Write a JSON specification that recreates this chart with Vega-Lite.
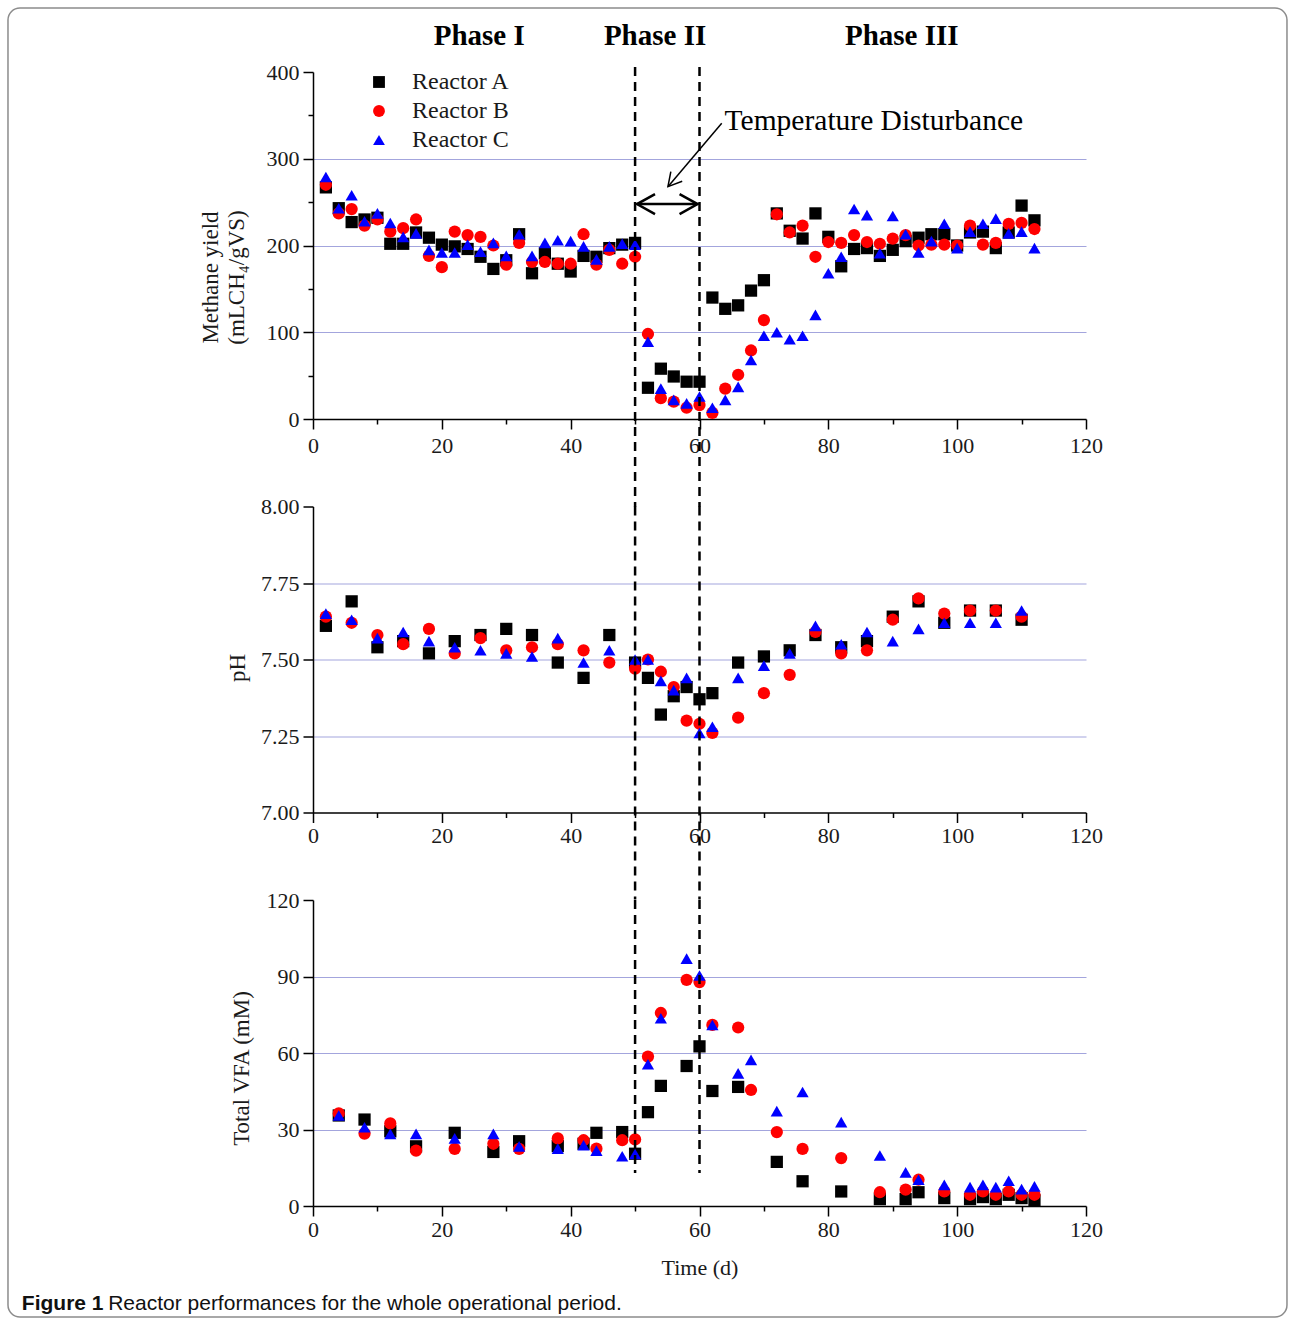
{
  "$schema": "https://vega.github.io/schema/vega-lite/v6.json",
  "padding": {"left": 7, "top": 7, "right": 0, "bottom": 0},
  "background": "white",
  "bounds": "flush",
  "spacing": 87.5,
  "config": {
    "view": {"stroke": null},
    "axis": {"labelFont": "Liberation Serif", "labelFontSize": 22, "labelColor": "#1a1a1a", "labelFlush": false, "labelOverlap": false, "domainColor": "#000000", "domainWidth": 1.5, "tickColor": "#000000", "tickWidth": 1.5, "titleFont": "Liberation Serif", "titleFontSize": 23, "titleFontWeight": "normal", "titleColor": "#1a1a1a", "gridColor": "#a3a5dd", "gridWidth": 1.2},
    "text": {"font": "Liberation Serif", "color": "#000000"}
  },
  "resolve": {"legend": {"color": "independent", "shape": "independent"}},
  "datasets": {
    "methane": [
      {"reactor":"Reactor A","day":2,"value":267},{"reactor":"Reactor A","day":4,"value":243},{"reactor":"Reactor A","day":6,"value":227},{"reactor":"Reactor A","day":8,"value":230},{"reactor":"Reactor A","day":10,"value":232},{"reactor":"Reactor A","day":12,"value":202},{"reactor":"Reactor A","day":14,"value":202},{"reactor":"Reactor A","day":16,"value":215},{"reactor":"Reactor A","day":18,"value":209},{"reactor":"Reactor A","day":20,"value":201},{"reactor":"Reactor A","day":22,"value":199},{"reactor":"Reactor A","day":24,"value":196},{"reactor":"Reactor A","day":26,"value":187},{"reactor":"Reactor A","day":28,"value":173},{"reactor":"Reactor A","day":30,"value":183},{"reactor":"Reactor A","day":32,"value":213},{"reactor":"Reactor A","day":34,"value":168},{"reactor":"Reactor A","day":36,"value":191},{"reactor":"Reactor A","day":38,"value":179},{"reactor":"Reactor A","day":40,"value":170},{"reactor":"Reactor A","day":42,"value":188},{"reactor":"Reactor A","day":44,"value":187},{"reactor":"Reactor A","day":46,"value":197},{"reactor":"Reactor A","day":48,"value":201},{"reactor":"Reactor A","day":50,"value":203},{"reactor":"Reactor A","day":52,"value":36},{"reactor":"Reactor A","day":54,"value":58},{"reactor":"Reactor A","day":56,"value":49},{"reactor":"Reactor A","day":58,"value":43},{"reactor":"Reactor A","day":60,"value":43},{"reactor":"Reactor A","day":62,"value":140},{"reactor":"Reactor A","day":64,"value":127},{"reactor":"Reactor A","day":66,"value":131},{"reactor":"Reactor A","day":68,"value":148},{"reactor":"Reactor A","day":70,"value":160},{"reactor":"Reactor A","day":72,"value":237},{"reactor":"Reactor A","day":74,"value":217},{"reactor":"Reactor A","day":76,"value":208},{"reactor":"Reactor A","day":78,"value":237},{"reactor":"Reactor A","day":80,"value":210},{"reactor":"Reactor A","day":82,"value":176},{"reactor":"Reactor A","day":84,"value":196},{"reactor":"Reactor A","day":86,"value":197},{"reactor":"Reactor A","day":88,"value":188},{"reactor":"Reactor A","day":90,"value":195},{"reactor":"Reactor A","day":92,"value":205},{"reactor":"Reactor A","day":94,"value":209},{"reactor":"Reactor A","day":96,"value":213},{"reactor":"Reactor A","day":98,"value":213},{"reactor":"Reactor A","day":100,"value":200},{"reactor":"Reactor A","day":102,"value":215},{"reactor":"Reactor A","day":104,"value":216},{"reactor":"Reactor A","day":106,"value":197},{"reactor":"Reactor A","day":108,"value":215},{"reactor":"Reactor A","day":110,"value":246},{"reactor":"Reactor A","day":112,"value":229},
      {"reactor":"Reactor B","day":2,"value":270},{"reactor":"Reactor B","day":4,"value":237},{"reactor":"Reactor B","day":6,"value":242},{"reactor":"Reactor B","day":8,"value":223},{"reactor":"Reactor B","day":10,"value":230},{"reactor":"Reactor B","day":12,"value":216},{"reactor":"Reactor B","day":14,"value":220},{"reactor":"Reactor B","day":16,"value":230},{"reactor":"Reactor B","day":18,"value":188},{"reactor":"Reactor B","day":20,"value":175},{"reactor":"Reactor B","day":22,"value":216},{"reactor":"Reactor B","day":24,"value":212},{"reactor":"Reactor B","day":26,"value":210},{"reactor":"Reactor B","day":28,"value":200},{"reactor":"Reactor B","day":30,"value":178},{"reactor":"Reactor B","day":32,"value":203},{"reactor":"Reactor B","day":34,"value":181},{"reactor":"Reactor B","day":36,"value":181},{"reactor":"Reactor B","day":38,"value":179},{"reactor":"Reactor B","day":40,"value":179},{"reactor":"Reactor B","day":42,"value":213},{"reactor":"Reactor B","day":44,"value":178},{"reactor":"Reactor B","day":46,"value":195},{"reactor":"Reactor B","day":48,"value":179},{"reactor":"Reactor B","day":50,"value":187},{"reactor":"Reactor B","day":52,"value":98},{"reactor":"Reactor B","day":54,"value":24},{"reactor":"Reactor B","day":56,"value":20},{"reactor":"Reactor B","day":58,"value":13},{"reactor":"Reactor B","day":60,"value":16},{"reactor":"Reactor B","day":62,"value":7},{"reactor":"Reactor B","day":64,"value":35},{"reactor":"Reactor B","day":66,"value":51},{"reactor":"Reactor B","day":68,"value":79},{"reactor":"Reactor B","day":70,"value":114},{"reactor":"Reactor B","day":72,"value":236},{"reactor":"Reactor B","day":74,"value":215},{"reactor":"Reactor B","day":76,"value":223},{"reactor":"Reactor B","day":78,"value":187},{"reactor":"Reactor B","day":80,"value":204},{"reactor":"Reactor B","day":82,"value":203},{"reactor":"Reactor B","day":84,"value":212},{"reactor":"Reactor B","day":86,"value":204},{"reactor":"Reactor B","day":88,"value":202},{"reactor":"Reactor B","day":90,"value":208},{"reactor":"Reactor B","day":92,"value":212},{"reactor":"Reactor B","day":94,"value":200},{"reactor":"Reactor B","day":96,"value":201},{"reactor":"Reactor B","day":98,"value":201},{"reactor":"Reactor B","day":100,"value":200},{"reactor":"Reactor B","day":102,"value":223},{"reactor":"Reactor B","day":104,"value":201},{"reactor":"Reactor B","day":106,"value":203},{"reactor":"Reactor B","day":108,"value":225},{"reactor":"Reactor B","day":110,"value":226},{"reactor":"Reactor B","day":112,"value":219},
      {"reactor":"Reactor C","day":2,"value":279},{"reactor":"Reactor C","day":4,"value":243},{"reactor":"Reactor C","day":6,"value":258},{"reactor":"Reactor C","day":8,"value":228},{"reactor":"Reactor C","day":10,"value":237},{"reactor":"Reactor C","day":12,"value":226},{"reactor":"Reactor C","day":14,"value":210},{"reactor":"Reactor C","day":16,"value":214},{"reactor":"Reactor C","day":18,"value":195},{"reactor":"Reactor C","day":20,"value":192},{"reactor":"Reactor C","day":22,"value":192},{"reactor":"Reactor C","day":24,"value":201},{"reactor":"Reactor C","day":26,"value":193},{"reactor":"Reactor C","day":28,"value":203},{"reactor":"Reactor C","day":30,"value":188},{"reactor":"Reactor C","day":32,"value":213},{"reactor":"Reactor C","day":34,"value":188},{"reactor":"Reactor C","day":36,"value":203},{"reactor":"Reactor C","day":38,"value":206},{"reactor":"Reactor C","day":40,"value":205},{"reactor":"Reactor C","day":42,"value":199},{"reactor":"Reactor C","day":44,"value":184},{"reactor":"Reactor C","day":46,"value":199},{"reactor":"Reactor C","day":48,"value":202},{"reactor":"Reactor C","day":50,"value":201},{"reactor":"Reactor C","day":52,"value":89},{"reactor":"Reactor C","day":54,"value":35},{"reactor":"Reactor C","day":56,"value":22},{"reactor":"Reactor C","day":58,"value":18},{"reactor":"Reactor C","day":60,"value":26},{"reactor":"Reactor C","day":62,"value":13},{"reactor":"Reactor C","day":64,"value":22},{"reactor":"Reactor C","day":66,"value":37},{"reactor":"Reactor C","day":68,"value":68},{"reactor":"Reactor C","day":70,"value":96},{"reactor":"Reactor C","day":72,"value":100},{"reactor":"Reactor C","day":74,"value":92},{"reactor":"Reactor C","day":76,"value":96},{"reactor":"Reactor C","day":78,"value":120},{"reactor":"Reactor C","day":80,"value":168},{"reactor":"Reactor C","day":82,"value":187},{"reactor":"Reactor C","day":84,"value":242},{"reactor":"Reactor C","day":86,"value":235},{"reactor":"Reactor C","day":88,"value":191},{"reactor":"Reactor C","day":90,"value":234},{"reactor":"Reactor C","day":92,"value":213},{"reactor":"Reactor C","day":94,"value":192},{"reactor":"Reactor C","day":96,"value":205},{"reactor":"Reactor C","day":98,"value":225},{"reactor":"Reactor C","day":100,"value":197},{"reactor":"Reactor C","day":102,"value":216},{"reactor":"Reactor C","day":104,"value":225},{"reactor":"Reactor C","day":106,"value":231},{"reactor":"Reactor C","day":108,"value":214},{"reactor":"Reactor C","day":110,"value":216},{"reactor":"Reactor C","day":112,"value":197}
    ],
    "ph": [
      {"reactor":"Reactor A","day":2,"value":7.61},{"reactor":"Reactor A","day":6,"value":7.69},{"reactor":"Reactor A","day":10,"value":7.54},{"reactor":"Reactor A","day":14,"value":7.56},{"reactor":"Reactor A","day":18,"value":7.52},{"reactor":"Reactor A","day":22,"value":7.56},{"reactor":"Reactor A","day":26,"value":7.58},{"reactor":"Reactor A","day":30,"value":7.60},{"reactor":"Reactor A","day":34,"value":7.58},{"reactor":"Reactor A","day":38,"value":7.49},{"reactor":"Reactor A","day":42,"value":7.44},{"reactor":"Reactor A","day":46,"value":7.58},{"reactor":"Reactor A","day":50,"value":7.49},{"reactor":"Reactor A","day":52,"value":7.44},{"reactor":"Reactor A","day":54,"value":7.32},{"reactor":"Reactor A","day":56,"value":7.38},{"reactor":"Reactor A","day":58,"value":7.41},{"reactor":"Reactor A","day":60,"value":7.37},{"reactor":"Reactor A","day":62,"value":7.39},{"reactor":"Reactor A","day":66,"value":7.49},{"reactor":"Reactor A","day":70,"value":7.51},{"reactor":"Reactor A","day":74,"value":7.53},{"reactor":"Reactor A","day":78,"value":7.58},{"reactor":"Reactor A","day":82,"value":7.54},{"reactor":"Reactor A","day":86,"value":7.56},{"reactor":"Reactor A","day":90,"value":7.64},{"reactor":"Reactor A","day":94,"value":7.69},{"reactor":"Reactor A","day":98,"value":7.62},{"reactor":"Reactor A","day":102,"value":7.66},{"reactor":"Reactor A","day":106,"value":7.66},{"reactor":"Reactor A","day":110,"value":7.63},
      {"reactor":"Reactor B","day":2,"value":7.64},{"reactor":"Reactor B","day":6,"value":7.62},{"reactor":"Reactor B","day":10,"value":7.58},{"reactor":"Reactor B","day":14,"value":7.55},{"reactor":"Reactor B","day":18,"value":7.60},{"reactor":"Reactor B","day":22,"value":7.52},{"reactor":"Reactor B","day":26,"value":7.57},{"reactor":"Reactor B","day":30,"value":7.53},{"reactor":"Reactor B","day":34,"value":7.54},{"reactor":"Reactor B","day":38,"value":7.55},{"reactor":"Reactor B","day":42,"value":7.53},{"reactor":"Reactor B","day":46,"value":7.49},{"reactor":"Reactor B","day":50,"value":7.47},{"reactor":"Reactor B","day":52,"value":7.50},{"reactor":"Reactor B","day":54,"value":7.46},{"reactor":"Reactor B","day":56,"value":7.41},{"reactor":"Reactor B","day":58,"value":7.30},{"reactor":"Reactor B","day":60,"value":7.29},{"reactor":"Reactor B","day":62,"value":7.26},{"reactor":"Reactor B","day":66,"value":7.31},{"reactor":"Reactor B","day":70,"value":7.39},{"reactor":"Reactor B","day":74,"value":7.45},{"reactor":"Reactor B","day":78,"value":7.59},{"reactor":"Reactor B","day":82,"value":7.52},{"reactor":"Reactor B","day":86,"value":7.53},{"reactor":"Reactor B","day":90,"value":7.63},{"reactor":"Reactor B","day":94,"value":7.70},{"reactor":"Reactor B","day":98,"value":7.65},{"reactor":"Reactor B","day":102,"value":7.66},{"reactor":"Reactor B","day":106,"value":7.66},{"reactor":"Reactor B","day":110,"value":7.64},
      {"reactor":"Reactor C","day":2,"value":7.65},{"reactor":"Reactor C","day":6,"value":7.63},{"reactor":"Reactor C","day":10,"value":7.57},{"reactor":"Reactor C","day":14,"value":7.59},{"reactor":"Reactor C","day":18,"value":7.56},{"reactor":"Reactor C","day":22,"value":7.54},{"reactor":"Reactor C","day":26,"value":7.53},{"reactor":"Reactor C","day":30,"value":7.52},{"reactor":"Reactor C","day":34,"value":7.51},{"reactor":"Reactor C","day":38,"value":7.57},{"reactor":"Reactor C","day":42,"value":7.49},{"reactor":"Reactor C","day":46,"value":7.53},{"reactor":"Reactor C","day":50,"value":7.50},{"reactor":"Reactor C","day":52,"value":7.50},{"reactor":"Reactor C","day":54,"value":7.43},{"reactor":"Reactor C","day":56,"value":7.40},{"reactor":"Reactor C","day":58,"value":7.44},{"reactor":"Reactor C","day":60,"value":7.26},{"reactor":"Reactor C","day":62,"value":7.28},{"reactor":"Reactor C","day":66,"value":7.44},{"reactor":"Reactor C","day":70,"value":7.48},{"reactor":"Reactor C","day":74,"value":7.52},{"reactor":"Reactor C","day":78,"value":7.61},{"reactor":"Reactor C","day":82,"value":7.55},{"reactor":"Reactor C","day":86,"value":7.59},{"reactor":"Reactor C","day":90,"value":7.56},{"reactor":"Reactor C","day":94,"value":7.60},{"reactor":"Reactor C","day":98,"value":7.62},{"reactor":"Reactor C","day":102,"value":7.62},{"reactor":"Reactor C","day":106,"value":7.62},{"reactor":"Reactor C","day":110,"value":7.66}
    ],
    "vfa": [
      {"reactor":"Reactor A","day":4,"value":35.5},{"reactor":"Reactor A","day":8,"value":33.9},{"reactor":"Reactor A","day":12,"value":29.3},{"reactor":"Reactor A","day":16,"value":23.4},{"reactor":"Reactor A","day":22,"value":28.7},{"reactor":"Reactor A","day":28,"value":21.2},{"reactor":"Reactor A","day":32,"value":25.4},{"reactor":"Reactor A","day":38,"value":23.5},{"reactor":"Reactor A","day":42,"value":24.4},{"reactor":"Reactor A","day":44,"value":28.7},{"reactor":"Reactor A","day":48,"value":29},{"reactor":"Reactor A","day":50,"value":20.5},{"reactor":"Reactor A","day":52,"value":36.8},{"reactor":"Reactor A","day":54,"value":47.1},{"reactor":"Reactor A","day":58,"value":54.9},{"reactor":"Reactor A","day":60,"value":62.6},{"reactor":"Reactor A","day":62,"value":45.1},{"reactor":"Reactor A","day":66,"value":46.7},{"reactor":"Reactor A","day":72,"value":17.3},{"reactor":"Reactor A","day":76,"value":9.7},{"reactor":"Reactor A","day":82,"value":5.7},{"reactor":"Reactor A","day":88,"value":2.7},{"reactor":"Reactor A","day":92,"value":2.7},{"reactor":"Reactor A","day":94,"value":5.4},{"reactor":"Reactor A","day":98,"value":3.1},{"reactor":"Reactor A","day":102,"value":2.7},{"reactor":"Reactor A","day":104,"value":3.5},{"reactor":"Reactor A","day":106,"value":2.7},{"reactor":"Reactor A","day":108,"value":4.4},{"reactor":"Reactor A","day":110,"value":3.1},{"reactor":"Reactor A","day":112,"value":2.2},
      {"reactor":"Reactor B","day":4,"value":36.3},{"reactor":"Reactor B","day":8,"value":28.4},{"reactor":"Reactor B","day":12,"value":32.4},{"reactor":"Reactor B","day":16,"value":21.7},{"reactor":"Reactor B","day":22,"value":22.4},{"reactor":"Reactor B","day":28,"value":24.4},{"reactor":"Reactor B","day":32,"value":22.4},{"reactor":"Reactor B","day":38,"value":26.5},{"reactor":"Reactor B","day":42,"value":25.8},{"reactor":"Reactor B","day":44,"value":22.5},{"reactor":"Reactor B","day":48,"value":25.8},{"reactor":"Reactor B","day":50,"value":26.1},{"reactor":"Reactor B","day":52,"value":58.6},{"reactor":"Reactor B","day":54,"value":75.7},{"reactor":"Reactor B","day":58,"value":88.7},{"reactor":"Reactor B","day":60,"value":87.8},{"reactor":"Reactor B","day":62,"value":71},{"reactor":"Reactor B","day":66,"value":70},{"reactor":"Reactor B","day":68,"value":45.5},{"reactor":"Reactor B","day":72,"value":29},{"reactor":"Reactor B","day":76,"value":22.4},{"reactor":"Reactor B","day":82,"value":18.8},{"reactor":"Reactor B","day":88,"value":5.4},{"reactor":"Reactor B","day":92,"value":6.4},{"reactor":"Reactor B","day":94,"value":10.3},{"reactor":"Reactor B","day":98,"value":5.7},{"reactor":"Reactor B","day":102,"value":4.4},{"reactor":"Reactor B","day":104,"value":5.7},{"reactor":"Reactor B","day":106,"value":4.4},{"reactor":"Reactor B","day":108,"value":5.7},{"reactor":"Reactor B","day":110,"value":4.4},{"reactor":"Reactor B","day":112,"value":4.4},
      {"reactor":"Reactor C","day":4,"value":35.5},{"reactor":"Reactor C","day":8,"value":30.9},{"reactor":"Reactor C","day":12,"value":28.3},{"reactor":"Reactor C","day":16,"value":28.3},{"reactor":"Reactor C","day":22,"value":26.5},{"reactor":"Reactor C","day":28,"value":28.3},{"reactor":"Reactor C","day":32,"value":23.4},{"reactor":"Reactor C","day":38,"value":22.5},{"reactor":"Reactor C","day":42,"value":23.8},{"reactor":"Reactor C","day":44,"value":21.7},{"reactor":"Reactor C","day":48,"value":19.5},{"reactor":"Reactor C","day":50,"value":20.4},{"reactor":"Reactor C","day":52,"value":55.6},{"reactor":"Reactor C","day":54,"value":73.6},{"reactor":"Reactor C","day":58,"value":97},{"reactor":"Reactor C","day":60,"value":90.4},{"reactor":"Reactor C","day":62,"value":71},{"reactor":"Reactor C","day":66,"value":52},{"reactor":"Reactor C","day":68,"value":57.3},{"reactor":"Reactor C","day":72,"value":37.2},{"reactor":"Reactor C","day":76,"value":44.7},{"reactor":"Reactor C","day":82,"value":32.9},{"reactor":"Reactor C","day":88,"value":19.8},{"reactor":"Reactor C","day":92,"value":13.2},{"reactor":"Reactor C","day":94,"value":10.3},{"reactor":"Reactor C","day":98,"value":8.3},{"reactor":"Reactor C","day":102,"value":7.4},{"reactor":"Reactor C","day":104,"value":8.3},{"reactor":"Reactor C","day":106,"value":7.4},{"reactor":"Reactor C","day":108,"value":9.9},{"reactor":"Reactor C","day":110,"value":6.6},{"reactor":"Reactor C","day":112,"value":7.7}
    ],
    "phaseBounds": [{"day": 50}, {"day": 60}]
  },
  "vconcat": [
    {
      "width": 773,
      "height": 347,
      "layer": [
        {
          "data": {"values": [{}]},
          "mark": {"type": "rect", "filled": false, "stroke": "#8c8c8c", "strokeWidth": 1.5, "cornerRadius": 12},
          "encoding": {"x": {"datum": -47.35, "type": "quantitative"}, "x2": {"datum": 151.2}, "y": {"datum": 473.8, "type": "quantitative"}, "y2": {"datum": -1035.2}}
        },
        {
          "data": {"name": "methane"},
          "mark": {"type": "point", "filled": true, "size": 150, "opacity": 1},
          "encoding": {
            "x": {"field": "day", "type": "quantitative", "scale": {"domain": [0, 120], "nice": false},
              "axis": {"values": [0,10,20,30,40,50,60,70,80,90,100,110,120], "labelExpr": "datum.value % 20 === 0 ? datum.label : ''", "tickSize": {"condition": {"test": "datum.value % 20 !== 0", "value": 5}, "value": 10}, "title": null, "grid": false, "labelPadding": 6}},
            "y": {"field": "value", "type": "quantitative", "scale": {"domain": [0, 400], "nice": false},
              "axis": {"values": [0,50,100,150,200,250,300,350,400], "labelExpr": "datum.value % 100 === 0 ? datum.label : ''", "tickSize": {"condition": {"test": "datum.value % 100 !== 0", "value": 5}, "value": 10}, "grid": true, "gridOpacity": {"condition": {"test": "datum.value === 100 || datum.value === 200 || datum.value === 300", "value": 1}, "value": 0}, "title": ["Methane yield", "(mLCH₄/gVS)"], "titleX": -91, "titleY": 205, "titleBaseline": "bottom", "titleLineHeight": 26, "labelPadding": 4}},
            "color": {"field": "reactor", "type": "nominal", "scale": {"domain": ["Reactor A", "Reactor B", "Reactor C"], "range": ["#000000", "#ff0000", "#0000ff"]},
              "legend": {"orient": "none", "legendX": 54, "legendY": -2, "title": null, "symbolSize": 140, "labelFont": "Liberation Serif", "labelFontSize": 24, "labelColor": "#1a1a1a", "labelOffset": 21, "rowPadding": 5, "padding": 0, "symbolStrokeWidth": 0, "labelLimit": 300}},
            "shape": {"field": "reactor", "type": "nominal", "scale": {"domain": ["Reactor A", "Reactor B", "Reactor C"], "range": ["square", "circle", "triangle-up"]},
              "legend": {"orient": "none", "legendX": 54, "legendY": -2, "title": null, "symbolSize": 140, "labelFont": "Liberation Serif", "labelFontSize": 24, "labelColor": "#1a1a1a", "labelOffset": 21, "rowPadding": 5, "padding": 0, "symbolStrokeWidth": 0, "labelLimit": 300}}
          }
        },
        {
          "data": {"name": "phaseBounds"},
          "mark": {"type": "rule", "strokeDash": [9, 6], "strokeWidth": 2.5, "color": "#000000"},
          "encoding": {"x": {"field": "day", "type": "quantitative"}, "y": {"datum": 405.8}, "y2": {"datum": -101.4}}
        },
        {
          "data": {"values": [{}]},
          "mark": {"type": "rule", "strokeWidth": 2.5, "color": "#000000"},
          "encoding": {"x": {"datum": 50.3}, "x2": {"datum": 59.7}, "y": {"datum": 247.8}}
        },
        {
          "data": {"values": [{}]},
          "mark": {"type": "point", "shape": "M 1.8 -1 L 0 0 L 1.8 1", "size": 400, "filled": false, "stroke": "#000000", "strokeWidth": 2.5, "opacity": 1},
          "encoding": {"x": {"datum": 50.3}, "y": {"datum": 247.8}}
        },
        {
          "data": {"values": [{}]},
          "mark": {"type": "point", "shape": "M -1.8 -1 L 0 0 L -1.8 1", "size": 400, "filled": false, "stroke": "#000000", "strokeWidth": 2.5, "opacity": 1},
          "encoding": {"x": {"datum": 59.7}, "y": {"datum": 247.8}}
        },
        {
          "data": {"values": [{}]},
          "mark": {"type": "rule", "strokeWidth": 1.5, "color": "#000000"},
          "encoding": {"x": {"datum": 63.45}, "y": {"datum": 340.9}, "x2": {"datum": 55.1}, "y2": {"datum": 267.8}}
        },
        {
          "data": {"values": [{}]},
          "mark": {"type": "point", "shape": "M 1.8 -1 L 0 0 L 1.8 1", "size": 220, "angle": -50, "filled": false, "stroke": "#000000", "strokeWidth": 1.5, "opacity": 1},
          "encoding": {"x": {"datum": 55.1}, "y": {"datum": 267.8}}
        },
        {
          "data": {"values": [{}]},
          "mark": {"type": "text", "text": "Temperature Disturbance", "align": "left", "baseline": "alphabetic", "fontSize": 29.5, "font": "Liberation Serif"},
          "encoding": {"x": {"datum": 63.9}, "y": {"datum": 333.1}}
        },
        {
          "data": {"values": [{}]},
          "mark": {"type": "text", "text": "Phase I", "align": "center", "baseline": "alphabetic", "fontSize": 29, "fontWeight": "bold", "font": "Liberation Serif"},
          "encoding": {"x": {"datum": 25.8}, "y": {"datum": 431.1}}
        },
        {
          "data": {"values": [{}]},
          "mark": {"type": "text", "text": "Phase II", "align": "center", "baseline": "alphabetic", "fontSize": 29, "fontWeight": "bold", "font": "Liberation Serif"},
          "encoding": {"x": {"datum": 53.1}, "y": {"datum": 431.1}}
        },
        {
          "data": {"values": [{}]},
          "mark": {"type": "text", "text": "Phase III", "align": "center", "baseline": "alphabetic", "fontSize": 29, "fontWeight": "bold", "font": "Liberation Serif"},
          "encoding": {"x": {"datum": 91.4}, "y": {"datum": 431.1}}
        }
      ]
    },
    {
      "width": 773,
      "height": 306,
      "layer": [
        {
          "data": {"name": "ph"},
          "mark": {"type": "point", "filled": true, "size": 150, "opacity": 1},
          "encoding": {
            "x": {"field": "day", "type": "quantitative", "scale": {"domain": [0, 120], "nice": false},
              "axis": {"values": [0,10,20,30,40,50,60,70,80,90,100,110,120], "labelExpr": "datum.value % 20 === 0 ? datum.label : ''", "tickSize": {"condition": {"test": "datum.value % 20 !== 0", "value": 5}, "value": 10}, "title": null, "grid": false, "labelPadding": 3}},
            "y": {"field": "value", "type": "quantitative", "scale": {"domain": [7, 8], "nice": false},
              "axis": {"values": [7,7.125,7.25,7.375,7.5,7.625,7.75,7.875,8], "format": ".2f", "labelExpr": "abs(datum.value*4 - round(datum.value*4)) < 0.001 ? datum.label : ''", "tickSize": {"condition": {"test": "abs(datum.value*4 - round(datum.value*4)) > 0.001", "value": 5}, "value": 10}, "grid": true, "gridOpacity": {"condition": {"test": "datum.value > 7.1 && datum.value < 7.9 && abs(datum.value*4 - round(datum.value*4)) < 0.001", "value": 1}, "value": 0}, "title": "pH", "titleX": -64, "titleY": 161, "titleBaseline": "bottom", "labelPadding": 4}},
            "color": {"field": "reactor", "type": "nominal", "scale": {"domain": ["Reactor A", "Reactor B", "Reactor C"], "range": ["#000000", "#ff0000", "#0000ff"]}, "legend": null},
            "shape": {"field": "reactor", "type": "nominal", "scale": {"domain": ["Reactor A", "Reactor B", "Reactor C"], "range": ["square", "circle", "triangle-up"]}, "legend": null}
          }
        },
        {
          "data": {"name": "phaseBounds"},
          "mark": {"type": "rule", "strokeDash": [9, 6], "strokeWidth": 2.5, "color": "#000000"},
          "encoding": {"x": {"field": "day", "type": "quantitative"}, "y": {"datum": 8}, "y2": {"datum": 6.716}}
        }
      ]
    },
    {
      "width": 773,
      "height": 306,
      "layer": [
        {
          "data": {"name": "vfa"},
          "mark": {"type": "point", "filled": true, "size": 150, "opacity": 1},
          "encoding": {
            "x": {"field": "day", "type": "quantitative", "scale": {"domain": [0, 120], "nice": false},
              "axis": {"values": [0,10,20,30,40,50,60,70,80,90,100,110,120], "labelExpr": "datum.value % 20 === 0 ? datum.label : ''", "tickSize": {"condition": {"test": "datum.value % 20 !== 0", "value": 5}, "value": 10}, "title": "Time (d)", "titleFontSize": 22, "titlePadding": 17, "grid": false, "labelPadding": 3}},
            "y": {"field": "value", "type": "quantitative", "scale": {"domain": [0, 120], "nice": false},
              "axis": {"values": [0,15,30,45,60,75,90,105,120], "labelExpr": "datum.value % 30 === 0 ? datum.label : ''", "tickSize": {"condition": {"test": "datum.value % 30 !== 0", "value": 5}, "value": 10}, "grid": true, "gridOpacity": {"condition": {"test": "datum.value === 30 || datum.value === 60 || datum.value === 90", "value": 1}, "value": 0}, "title": "Total VFA (mM)", "titleX": -60, "titleY": 168, "titleBaseline": "bottom", "labelPadding": 4}},
            "color": {"field": "reactor", "type": "nominal", "scale": {"domain": ["Reactor A", "Reactor B", "Reactor C"], "range": ["#000000", "#ff0000", "#0000ff"]}, "legend": null},
            "shape": {"field": "reactor", "type": "nominal", "scale": {"domain": ["Reactor A", "Reactor B", "Reactor C"], "range": ["square", "circle", "triangle-up"]}, "legend": null}
          }
        },
        {
          "data": {"name": "phaseBounds"},
          "mark": {"type": "rule", "strokeDash": [9, 6], "strokeWidth": 2.5, "color": "#000000"},
          "encoding": {"x": {"field": "day", "type": "quantitative"}, "y": {"datum": 120}, "y2": {"datum": 12.9}}
        },
        {
          "data": {"values": [{}]},
          "mark": {"type": "text", "text": "Figure 1", "align": "left", "baseline": "alphabetic", "fontSize": 21, "fontWeight": "bold", "font": "Liberation Sans", "color": "#111111"},
          "encoding": {"x": {"datum": -45.2}, "y": {"datum": -40.8}}
        },
        {
          "data": {"values": [{}]},
          "mark": {"type": "text", "text": "Reactor performances for the whole operational period.", "align": "left", "baseline": "alphabetic", "fontSize": 21, "font": "Liberation Sans", "color": "#111111"},
          "encoding": {"x": {"datum": -31.8}, "y": {"datum": -40.8}}
        }
      ]
    }
  ]
}
